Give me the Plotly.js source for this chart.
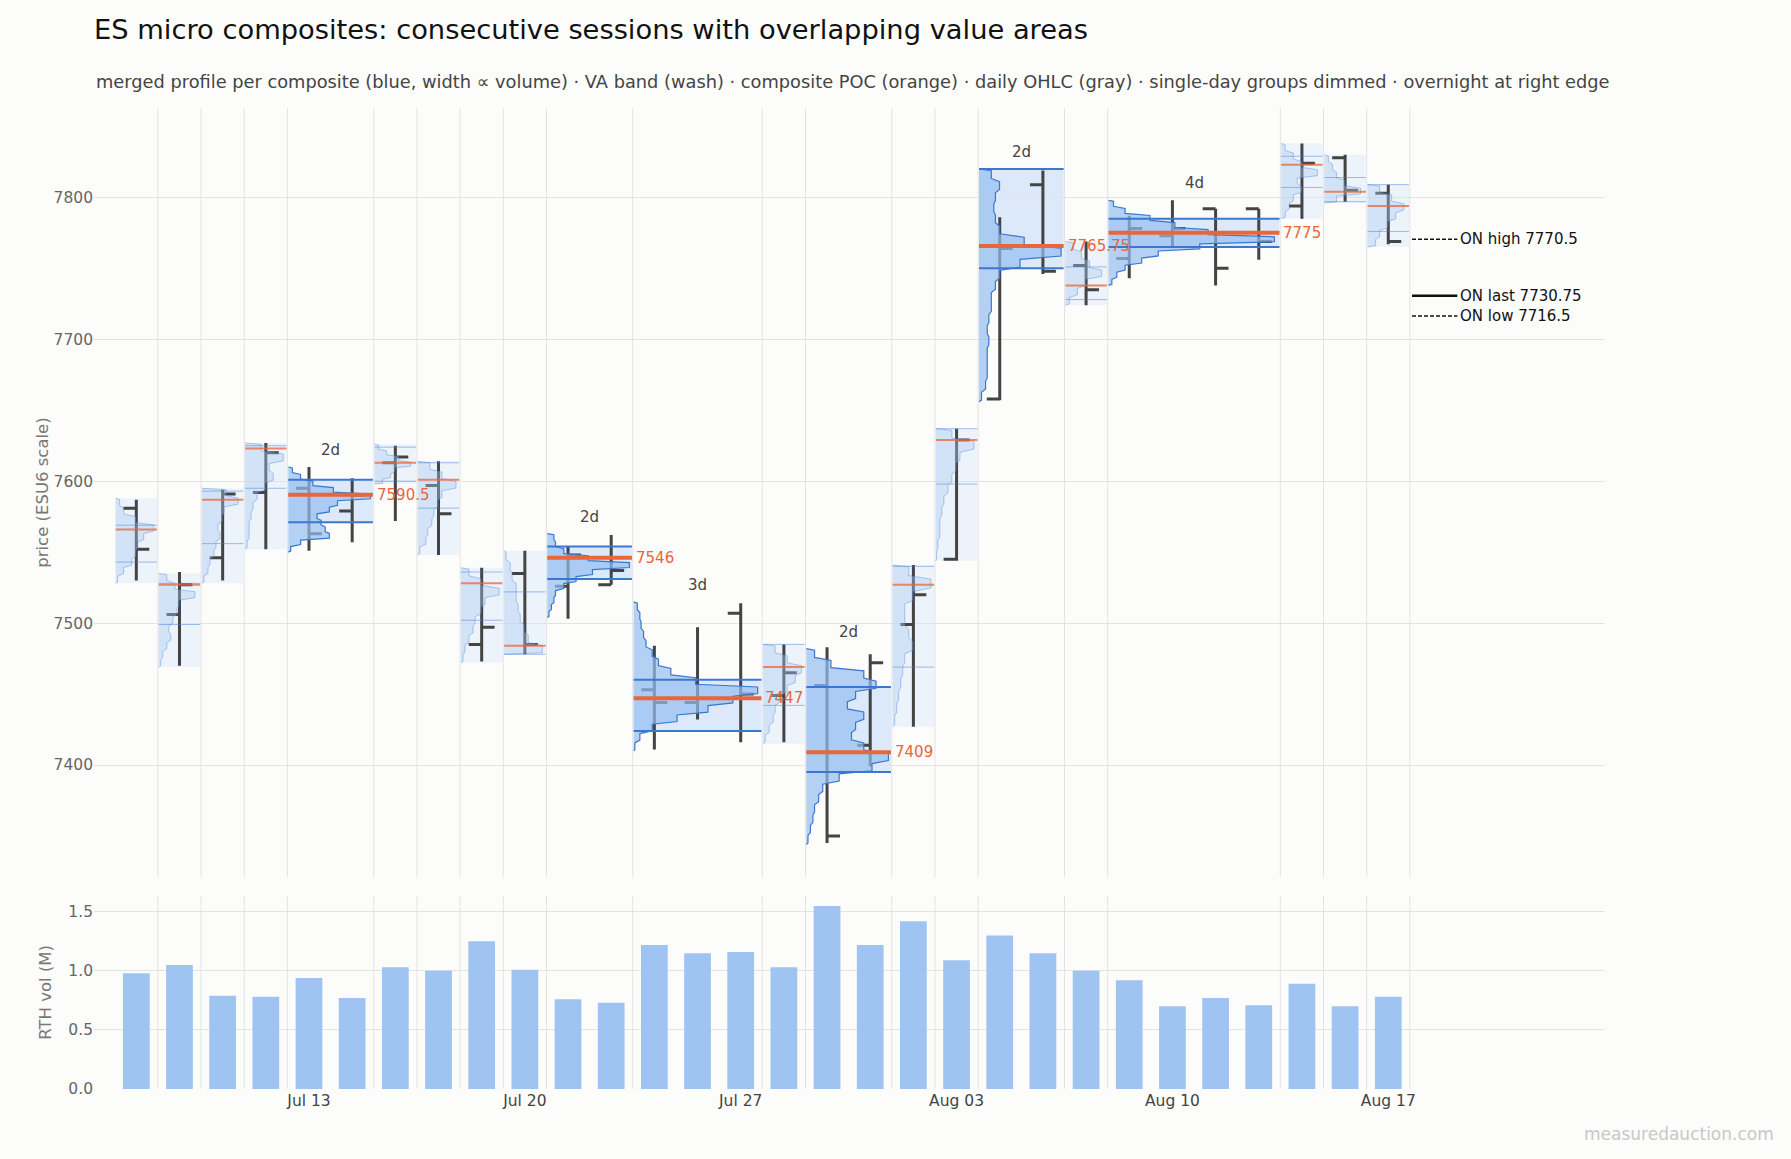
<!DOCTYPE html>
<html>
<head>
<meta charset="utf-8">
<script src="https://cdn.plot.ly/plotly-3.0.1.min.js"></script>
<style>body{margin:0;background:#fcfcfb}</style>
</head>
<body>
<div id="plot" style="width:1791px;height:1159px"></div>
<script>
// sessions (RTH days), weekends skipped
var sessionDates = ['Jul 07','Jul 08','Jul 09','Jul 10','Jul 13','Jul 14','Jul 15','Jul 16','Jul 17','Jul 20',
  'Jul 21','Jul 22','Jul 23','Jul 24','Jul 27','Jul 28','Jul 29','Jul 30','Jul 31','Aug 03',
  'Aug 04','Aug 05','Aug 06','Aug 07','Aug 10','Aug 11','Aug 12','Aug 13','Aug 14','Aug 17'];
var dayOpen  = [7581,7506,7546,7592,7595,7579,7613,7597,7485,7535,7526,7527,7453,7444,7507,7449,7456,7414,7499,7545,7658,7809,7752,7757,7773,7792,7792,7794,7828,7803];
var dayHigh  = [7587,7536,7594,7627,7610,7602,7625,7614,7539,7551,7554,7562,7484,7497,7514,7485,7483,7478,7541,7637,7786,7819,7769,7787,7798,7792,7792,7838,7830,7809];
var dayLow   = [7530,7470,7530,7552,7551,7557,7572,7548,7473,7478,7503,7527,7411,7432,7416,7416,7345,7399,7427,7544,7657,7746,7724,7743,7765,7738,7756,7785,7797,7767];
var dayClose = [7552,7527,7591,7620,7563,7590,7617,7577,7497,7485,7548,7537,7444,7447,7450,7465,7350,7472,7520,7629,7764,7748,7735,7778,7778,7750,7769,7824,7805,7769];
var rthVol   = [0.98,1.05,0.79,0.78,0.94,0.77,1.03,1.00,1.25,1.01,0.76,0.73,1.22,1.15,1.16,1.03,1.55,1.22,1.42,1.09,1.30,1.15,1.00,0.92,0.70,0.77,0.71,0.89,0.70,0.78];

// composites: first and last session index
var grpStart = [0,1,2,3,4,6,7,8,9,10,12,15,16,18,19,20,22,23,27,28,29];
var grpEnd   = [0,1,2,3,5,6,7,8,9,11,14,15,17,18,19,21,22,26,27,28,29];
var grpLow   = [7528,7469,7528,7552,7550,7598,7548,7472,7478,7504,7410,7415,7344,7427,7544,7656,7724,7738,7785,7796,7765];
var grpHigh  = [7588,7535,7595,7627,7610,7626,7614,7539,7551,7563,7515,7485,7482,7541,7637,7820,7769,7798,7838,7830,7809];
var grpVAH   = [7569,7528,7593,7625,7601,7624,7613,7536,7522,7554,7460,7485,7455,7540,7637,7820,7751,7785,7829,7814,7809];
var grpVAL   = [7543,7499,7556,7595,7571,7600,7581,7502,7478,7531,7424,7442,7395,7469,7598,7750,7728,7765,7807,7797,7776];
var grpPOC   = [7566,7527,7587,7623,7590.5,7613,7601,7528,7484,7546,7447,7469,7409,7527,7629,7765.75,7738,7775,7823,7804,7794];
// relative volume per price bin, low -> high
var grpProfile = [
  [0.05,0.2,0.4,0.5,0.55,0.7,0.95,0.5,0.2,0.1],
  [0.05,0.1,0.2,0.3,0.25,0.35,0.45,0.5,0.9,0.4,0.2],
  [0.05,0.15,0.2,0.3,0.35,0.45,0.4,0.5,0.55,0.9,0.6],
  [0.05,0.1,0.1,0.15,0.2,0.3,0.5,0.7,0.6,0.95,0.4],
  [0.03,0.15,0.5,0.45,0.4,0.35,0.5,0.6,1.0,0.55,0.3,0.15,0.05],
  [0.2,0.4,0.5,0.9,0.6,0.3,0.1],
  [0.05,0.2,0.25,0.35,0.4,0.5,0.6,0.95,0.6,0.3],
  [0.05,0.1,0.2,0.3,0.35,0.5,0.6,0.95,0.5,0.2],
  [0.95,0.6,0.5,0.4,0.35,0.3,0.3,0.2,0.15,0.05],
  [0.02,0.05,0.08,0.1,0.2,0.35,0.55,1.0,0.5,0.2,0.1,0.08],
  [0.01,0.05,0.15,0.35,0.6,0.8,1.0,0.5,0.3,0.2,0.15,0.1,0.08,0.06,0.05,0.03],
  [0.05,0.15,0.25,0.3,0.4,0.6,0.8,0.95,0.6,0.3],
  [0.02,0.05,0.08,0.1,0.15,0.2,0.4,0.8,1.0,0.7,0.55,0.6,0.7,0.5,0.6,0.85,0.7,0.3,0.1],
  [0.05,0.1,0.15,0.2,0.25,0.3,0.5,0.4,0.3,0.3,0.5,0.95,0.4],
  [0.02,0.05,0.1,0.1,0.15,0.2,0.3,0.4,0.5,0.6,0.95,0.4],
  [0.03,0.08,0.1,0.1,0.1,0.12,0.1,0.12,0.15,0.15,0.2,0.25,0.5,1.0,0.55,0.25,0.2,0.18,0.2,0.25,0.15],
  [0.1,0.3,0.5,0.9,0.6,0.4,0.2],
  [0.02,0.05,0.1,0.2,0.3,0.55,1.0,0.6,0.4,0.25,0.1,0.03],
  [0.1,0.2,0.3,0.5,0.4,0.9,0.5,0.3,0.1],
  [0.3,0.9,0.5,0.3,0.2,0.1],
  [0.2,0.3,0.5,0.7,0.9,0.6,0.3]
];

// overnight
var onLabels = ['ON high', 'ON last', 'ON low'];
var onValues = [7770.5, 7730.75, 7716.5];

var tickIdx = [4, 9, 14, 19, 24, 29];

var ORANGE = '#e8663a', BLUE = '#3a78d0';
var traces = [], shapes = [], annotations = [];

grpStart.forEach(function (s, g) {
  var e = grpEnd[g], n = e - s + 1, multi = n > 1;
  var left = s - 0.48, right = e + 0.48, w = right - left;
  // wash
  shapes.push({type: 'rect', xref: 'x', yref: 'y', x0: left, x1: right,
    y0: multi ? grpVAL[g] : grpLow[g], y1: multi ? grpVAH[g] : grpHigh[g],
    fillcolor: multi ? 'rgba(205,225,250,0.7)' : 'rgba(215,230,250,0.4)', line: {width: 0}, layer: 'below'});
  // profile (jagged ladder between bins)
  var prof = grpProfile[g], px = [left], py = [grpLow[g]];
  var step = (grpHigh[g] - grpLow[g]) / prof.length;
  prof.forEach(function (v, i) {
    px.push(left + w * v * 0.97, left + w * v * 0.97);
    py.push(grpLow[g] + (i + 0.15) * step, grpLow[g] + (i + 0.85) * step);
  });
  px.push(left); py.push(grpHigh[g]);
  traces.push({x: px, y: py, type: 'scatter', mode: 'lines', fill: 'toself',
    fillcolor: multi ? 'rgba(150,190,240,0.7)' : 'rgba(170,202,242,0.4)',
    line: {color: multi ? BLUE : 'rgba(70,130,215,0.5)', width: multi ? 1.2 : 0.8},
    hoverinfo: 'skip', showlegend: false, xaxis: 'x', yaxis: 'y'});
  // VA lines and POC
  [grpVAH[g], grpVAL[g]].forEach(function (v) {
    shapes.push({type: 'line', xref: 'x', yref: 'y', x0: left, x1: right, y0: v, y1: v,
      line: {color: multi ? BLUE : 'rgba(70,130,215,0.5)', width: multi ? 2 : 1}});
  });
  shapes.push({type: 'line', xref: 'x', yref: 'y', x0: left, x1: right, y0: grpPOC[g], y1: grpPOC[g],
    line: {color: multi ? ORANGE : 'rgba(232,102,58,0.75)', width: multi ? 4 : 2}});
  if (multi) {
    annotations.push({x: right, y: grpPOC[g], xref: 'x', yref: 'y', text: String(grpPOC[g]),
      showarrow: false, xanchor: 'left', xshift: 2, font: {color: ORANGE, size: 15}});
    annotations.push({x: (s + e) / 2, y: grpHigh[g], xref: 'x', yref: 'y', text: n + 'd',
      showarrow: false, yanchor: 'bottom', yshift: 6, font: {color: '#444', size: 15}});
  }
  // boundary gridlines
  if (s > 0) {
    ['y', 'y2'].forEach(function (ya) {
      shapes.push({type: 'line', xref: 'x', yref: ya + ' domain', x0: s - 0.5, x1: s - 0.5, y0: 0, y1: 1,
        line: {color: '#e3e3e3', width: 1}, layer: 'below'});
    });
  }
  if (g === grpStart.length - 1) {
    ['y', 'y2'].forEach(function (ya) {
      shapes.push({type: 'line', xref: 'x', yref: ya + ' domain', x0: e + 0.5, x1: e + 0.5, y0: 0, y1: 1,
        line: {color: '#e3e3e3', width: 1}, layer: 'below'});
    });
  }
});

var idx = sessionDates.map(function (d, i) { return i; });
traces.push({type: 'ohlc', x: idx, open: dayOpen, high: dayHigh, low: dayLow, close: dayClose,
  increasing: {line: {color: '#444', width: 3}}, decreasing: {line: {color: '#444', width: 3}},
  tickwidth: 0.3, hoverinfo: 'skip', showlegend: false, xaxis: 'x', yaxis: 'y'});

traces.push({type: 'bar', x: idx, y: rthVol, width: 0.62, marker: {color: '#a0c4f2'},
  hoverinfo: 'skip', showlegend: false, xaxis: 'x2', yaxis: 'y2'});

onValues.forEach(function (v, i) {
  var last = i === 1;
  shapes.push({type: 'line', xref: 'x', yref: 'y', x0: 29.55, x1: 30.6, y0: v, y1: v,
    line: {color: '#111', width: last ? 2.5 : 1.5, dash: last ? 'solid' : '4px,2px'}});
  annotations.push({x: 30.62, y: v, xref: 'x', yref: 'y', text: onLabels[i] + ' ' + v,
    showarrow: false, xanchor: 'left', font: {color: '#111', size: 15}});
});

annotations.push({xref: 'paper', yref: 'paper', x: 0, y: 1.027, xanchor: 'left', yanchor: 'middle', showarrow: false,
  text: 'merged profile per composite (blue, width ∝ volume) · VA band (wash) · composite POC (orange) · daily OHLC (gray) · single-day groups dimmed · overnight at right edge',
  font: {size: 17.8, color: '#444'}});
annotations.push({xref: 'paper', yref: 'paper', x: 1.113, y: -0.046, xanchor: 'right', yanchor: 'middle', showarrow: false,
  text: 'measuredauction.com', font: {size: 17, color: '#c8c8c8'}});

var layout = {
  width: 1791, height: 1159,
  paper_bgcolor: '#fcfcfb', plot_bgcolor: '#fcfcfb',
  font: {family: 'DejaVu Sans', color: '#555'},
  margin: {l: 94, r: 186, t: 108, b: 70},
  title: {text: 'ES micro composites: consecutive sessions with overlapping value areas',
    x: 94 / 1791, xanchor: 'left', y: 0.975, yanchor: 'middle', font: {size: 27.3, color: '#111'}},
  xaxis: {domain: [0, 1], anchor: 'y', range: [-0.98, 34.02], showgrid: false, zeroline: false,
    showticklabels: false, rangeslider: {visible: false}},
  xaxis2: {domain: [0, 1], anchor: 'y2', matches: 'x', showgrid: false, zeroline: false,
    tickvals: tickIdx, ticktext: tickIdx.map(function (i) { return sessionDates[i]; }),
    tickfont: {size: 15.5, color: '#444'}, ticks: '', rangeslider: {visible: false}},
  yaxis: {domain: [0.216, 1], range: [7321, 7863], tickvals: [7400, 7500, 7600, 7700, 7800],
    gridcolor: '#e3e3e3', zeroline: false, tickfont: {size: 15.5, color: '#666'},
    title: {text: 'price (ESU6 scale)', font: {size: 16.5, color: '#777'}}},
  yaxis2: {domain: [0, 0.197], range: [0, 1.636], tickvals: [0, 0.5, 1.0, 1.5], tickformat: '.1f',
    gridcolor: '#e3e3e3', zeroline: false, tickfont: {size: 15.5, color: '#666'},
    title: {text: 'RTH vol (M)', font: {size: 16.5, color: '#777'}}},
  shapes: shapes,
  annotations: annotations
};

Plotly.newPlot('plot', traces, layout, {displayModeBar: false});
</script>
</body>
</html>
